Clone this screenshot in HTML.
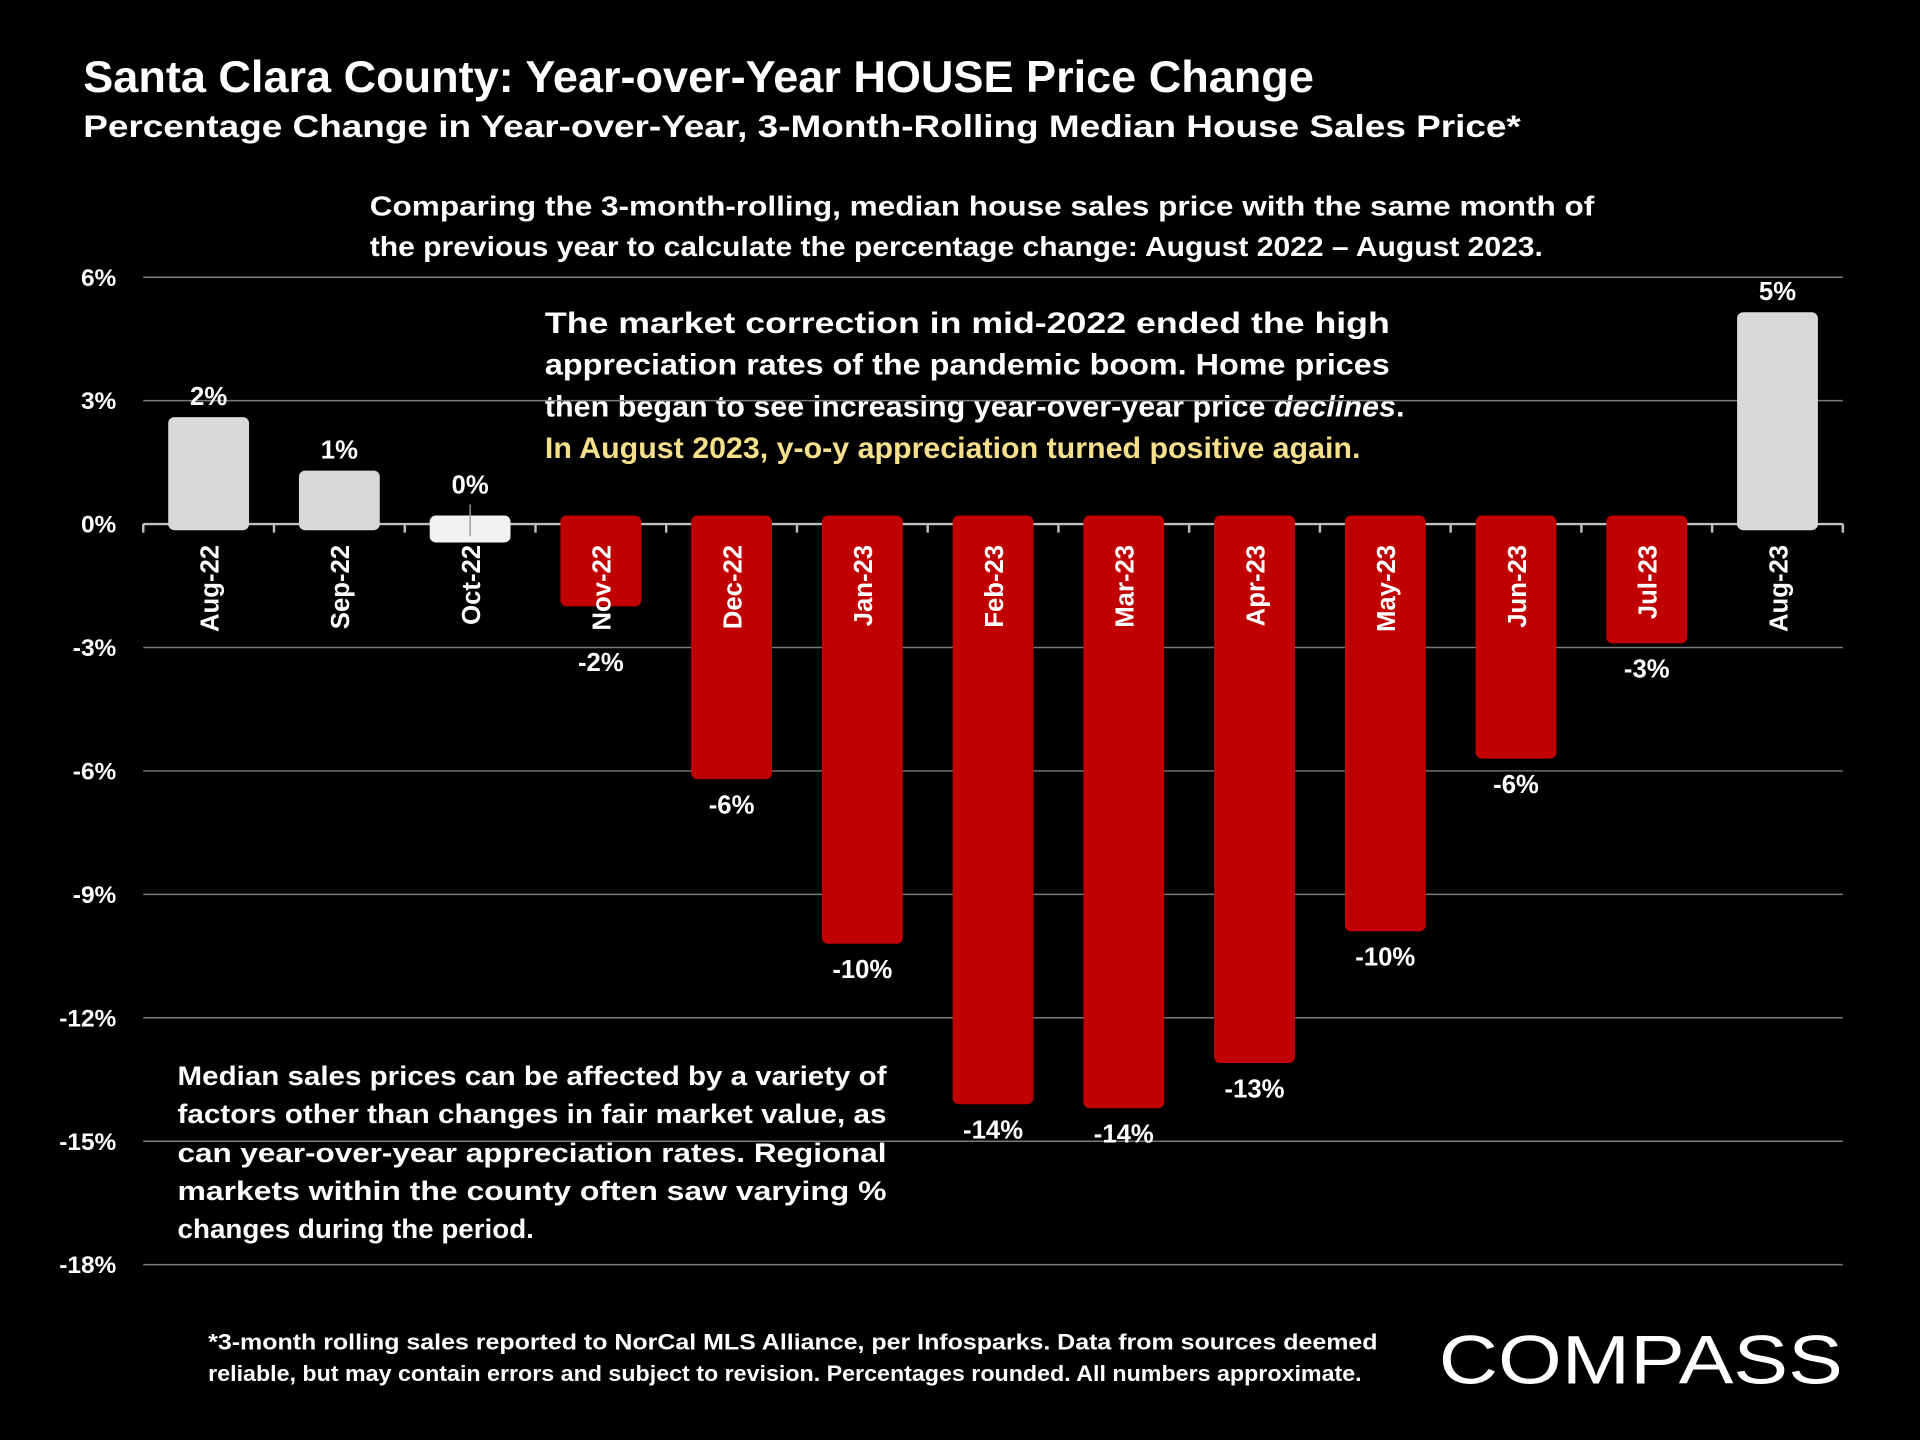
<!DOCTYPE html>
<html><head><meta charset="utf-8"><style>
html,body{margin:0;padding:0;background:#000;}
svg{display:block;font-family:"Liberation Sans",sans-serif;}
</style></head><body>
<svg id="chart" width="1920" height="1440" viewBox="0 0 1568 1176" xmlns="http://www.w3.org/2000/svg">
<rect width="1568" height="1176" fill="#000"/>
<g fill="#fff" font-weight="bold">
<text x="68" y="75" font-size="36" textLength="1005" lengthAdjust="spacingAndGlyphs">Santa Clara County: Year-over-Year HOUSE Price Change</text>
<text x="68" y="112" font-size="26" textLength="1174" lengthAdjust="spacingAndGlyphs">Percentage Change in Year-over-Year, 3-Month-Rolling Median House Sales Price*</text>
<g font-size="23">
<text x="302" y="176" textLength="1000" lengthAdjust="spacingAndGlyphs">Comparing the 3-month-rolling, median house sales price with the same month of</text>
<text x="302" y="209" textLength="958" lengthAdjust="spacingAndGlyphs">the previous year to calculate the percentage change: August 2022 – August 2023.</text>
</g>
<g font-size="24">
<text x="445" y="272" textLength="690" lengthAdjust="spacingAndGlyphs">The market correction in mid-2022 ended the high</text>
<text x="445" y="306" textLength="690" lengthAdjust="spacingAndGlyphs">appreciation rates of the pandemic boom.  Home prices</text>
<text x="445" y="340" textLength="702" lengthAdjust="spacingAndGlyphs">then began to see increasing year-over-year price <tspan font-style="italic">declines</tspan>.</text>
<text x="445" y="374" textLength="666" lengthAdjust="spacingAndGlyphs" fill="#f7e08c">In August 2023, y-o-y appreciation turned positive again.</text>
</g>
<g font-size="22">
<text x="145" y="886" textLength="579" lengthAdjust="spacingAndGlyphs">Median sales prices can be affected by a variety of</text>
<text x="145" y="917" textLength="579" lengthAdjust="spacingAndGlyphs">factors other than changes in fair market value, as</text>
<text x="145" y="949" textLength="579" lengthAdjust="spacingAndGlyphs">can year-over-year appreciation rates. Regional</text>
<text x="145" y="980" textLength="579" lengthAdjust="spacingAndGlyphs">markets within the county often saw varying %</text>
<text x="145" y="1011" textLength="291" lengthAdjust="spacingAndGlyphs">changes during the period.</text>
</g>
<g font-size="18">
<text x="170" y="1102" textLength="955" lengthAdjust="spacingAndGlyphs">*3-month rolling sales reported to NorCal MLS Alliance, per Infosparks. Data from sources deemed</text>
<text x="170" y="1128" textLength="942" lengthAdjust="spacingAndGlyphs">reliable, but may contain errors and subject to revision. Percentages rounded. All numbers approximate.</text>
</g>
</g>
<text x="1175" y="1130" font-size="56" fill="#fff" textLength="330" lengthAdjust="spacingAndGlyphs">COMPASS</text>
<g id="grid"></g><g id="bars"></g><g id="labels"></g>
</svg>
<script>
const categories = ["Aug-22","Sep-22","Oct-22","Nov-22","Dec-22","Jan-23","Feb-23","Mar-23","Apr-23","May-23","Jun-23","Jul-23","Aug-23"];
const values = [2.6,1.3,-0.3,-2.0,-6.2,-10.2,-14.1,-14.2,-13.1,-9.9,-5.7,-2.9,5.15];
const valueLabels = ["2%","1%","0%","-2%","-6%","-10%","-14%","-14%","-13%","-10%","-6%","-3%","5%"];
const yTicks = [6,3,0,-3,-6,-9,-12,-15,-18];
const yTickLabels = ["6%","3%","0%","-3%","-6%","-9%","-12%","-15%","-18%"];

const NS = "http://www.w3.org/2000/svg";
const plotL = 117, plotR = 1505, y0 = 428, pxPerPct = 33.6;
const band = (plotR - plotL) / categories.length;
const barW = 66;
function yScale(v){ return y0 - v * pxPerPct; }
function xCenter(i){ return plotL + band * (i + 0.5); }
function mk(tag, attrs, parent){ const e = document.createElementNS(NS, tag); for (const k in attrs) e.setAttribute(k, attrs[k]); parent.appendChild(e); return e; }

const grid = document.getElementById("grid"), bars = document.getElementById("bars"), labels = document.getElementById("labels");
yTicks.forEach((t, i) => {
  const y = yScale(t);
  if (t !== 0) {
    const l = mk("line", {x1: plotL, x2: plotR, y1: y, y2: y, stroke: "#7a7a7a", "stroke-width": 1.2}, grid);
    
    
  }
  const tx = mk("text", {x: 95, y: y + 7, "text-anchor": "end", fill: "#fff", "font-size": 20, "font-weight": "bold"}, labels);
  tx.textContent = yTickLabels[i];
  
  
});
categories.forEach((c, i) => {
  const v = values[i], cx = xCenter(i);
  let top = v >= 0 ? yScale(v) : y0 - 7;
  let bot = v >= 0 ? y0 + 5 : yScale(v);
  let fill = v >= 0 ? "#d9d9d9" : "#c00000";
  if (Math.abs(v) < 0.5) { fill = "#f2f2f2"; top = y0 - 7; bot = y0 + 15; }
  const r = mk("rect", {x: cx - barW/2, y: top, width: barW, height: bot - top, rx: 5, fill: fill}, bars);
  
  
  let ly;
  if (Math.abs(v) < 0.5) ly = y0 - 25;
  else if (v >= 0) ly = yScale(v) - 10;
  else ly = Math.max(yScale(v) + 28, 548);
  const vl = mk("text", {x: cx, y: ly, "text-anchor": "middle", fill: "#fff", "font-size": 21, "font-weight": "bold"}, labels);
  vl.textContent = valueLabels[i];
  
  
  if (Math.abs(v) < 0.5) {
    const eb = mk("line", {x1: cx, x2: cx, y1: y0 - 16, y2: y0 + 10, stroke: "#9a9a9a", "stroke-width": 1.2}, labels);
    
    
  }
  const xl = mk("text", {x: 0, y: 0, "text-anchor": "end", fill: "#fff", "font-size": 21, "font-weight": "bold", transform: "translate(" + (cx + 8) + ",445) rotate(-90)"}, labels);
  xl.textContent = c;
  
  
});
const ax = mk("line", {x1: plotL, x2: plotR, y1: y0, y2: y0, stroke: "#bfbfbf", "stroke-width": 2}, grid);


for (let i = 0; i <= categories.length; i++) {
  const x = plotL + band * i;
  const tk = mk("line", {x1: x, x2: x, y1: y0, y2: y0 + 7, stroke: "#bfbfbf", "stroke-width": 2}, labels);
  
  
}
</script>
</body></html>
